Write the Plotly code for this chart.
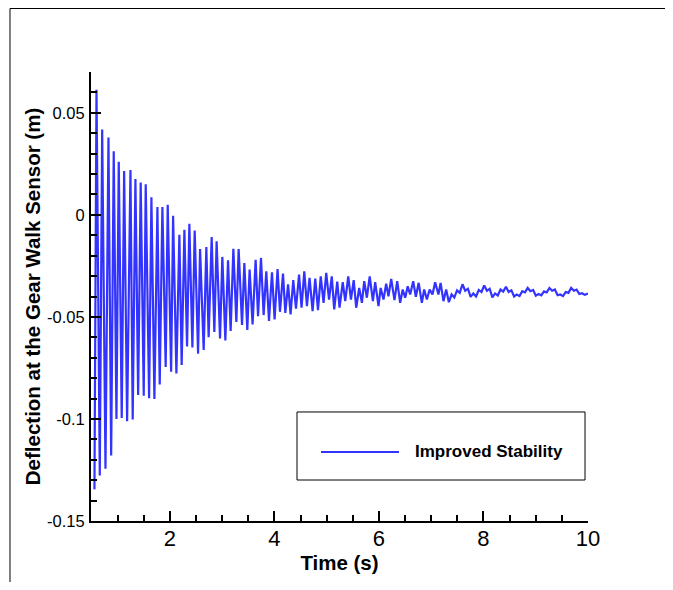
import plotly.graph_objects as go

# ---- data (time in s, deflection in m) ----
t_early = [0.556, 0.595, 0.658, 0.704, 0.767, 0.824, 0.876, 0.925, 0.977, 1.021,
           1.078, 1.124, 1.181, 1.245, 1.288, 1.340, 1.392, 1.441, 1.499, 1.537,
           1.602, 1.646, 1.703, 1.761, 1.805, 1.856, 1.919, 1.958, 2.023, 2.061,
           2.124, 2.181, 2.225, 2.277, 2.328, 2.372, 2.430, 2.474, 2.539, 2.577,
           2.646, 2.697, 2.741, 2.799, 2.850, 2.894, 2.959, 3.003, 3.061, 3.112,
           3.162, 3.214, 3.271, 3.315, 3.380, 3.424, 3.481, 3.525, 3.582, 3.640,
           3.686, 3.743, 3.793, 3.844, 3.896, 3.953, 4.003, 4.060, 4.106, 4.164,
           4.208, 4.261, 4.309, 4.360, 4.412, 4.471, 4.519, 4.571, 4.622]
d_early = [-0.1345, 0.0613, -0.1277, 0.0418, -0.1244, 0.0379, -0.1179, 0.0312, -0.1000, 0.0260,
           -0.0995, 0.0215, -0.1011, 0.0220, -0.1003, 0.0176, -0.0883, 0.0158, -0.0886, 0.0150,
           -0.0899, 0.0086, -0.0902, 0.0039, -0.0831, 0.0039, -0.0745, 0.0049, -0.0769, -0.0005,
           -0.0777, -0.0098, -0.0735, -0.0073, -0.0645, -0.0044, -0.0650, -0.0077, -0.0680, -0.0167,
           -0.0662, -0.0158, -0.0599, -0.0109, -0.0574, -0.0130, -0.0606, -0.0206, -0.0615, -0.0223,
           -0.0569, -0.0166, -0.0525, -0.0167, -0.0540, -0.0236, -0.0564, -0.0268, -0.0537, -0.0220,
           -0.0496, -0.0211, -0.0491, -0.0277, -0.0520, -0.0281, -0.0512, -0.0265, -0.0475, -0.0288,
           -0.0480, -0.0341, -0.0488, -0.0320, -0.0460, -0.0293, -0.0455, -0.0277, -0.0447]

t_mid = [4.672, 4.730, 4.781, 4.833, 4.886, 4.940, 4.991, 5.045, 5.097, 5.144,
         5.202, 5.246, 5.307, 5.355, 5.412, 5.464, 5.517, 5.565, 5.622, 5.674,
         5.718, 5.769, 5.823, 5.884, 5.928, 5.991, 6.033, 6.087, 6.138, 6.182,
         6.234, 6.297, 6.349, 6.406, 6.454, 6.502, 6.550, 6.597, 6.655, 6.706,
         6.760, 6.821, 6.865, 6.917, 6.970, 7.024, 7.075, 7.138, 7.180, 7.234, 7.286]
d_mid = [-0.0309, -0.0472, -0.0312, -0.0467, -0.0301, -0.0431, -0.0284, -0.0415, -0.0301, -0.0463,
         -0.0327, -0.0455, -0.0330, -0.0423, -0.0301, -0.0415, -0.0320, -0.0455, -0.0358, -0.0431,
         -0.0325, -0.0406, -0.0301, -0.0423, -0.0330, -0.0447, -0.0358, -0.0415, -0.0337, -0.0399,
         -0.0314, -0.0418, -0.0325, -0.0431, -0.0366, -0.0406, -0.0350, -0.0390, -0.0325, -0.0401,
         -0.0333, -0.0431, -0.0366, -0.0415, -0.0366, -0.0390, -0.0330, -0.0390, -0.0333, -0.0423, -0.0366]

t_late = [7.338, 7.390, 7.442, 7.494, 7.546, 7.598, 7.650, 7.702, 7.754, 7.806,
          7.858, 7.910, 7.962, 8.014, 8.066, 8.118, 8.170, 8.222, 8.274, 8.326,
          8.378, 8.430, 8.482, 8.534, 8.586, 8.638, 8.690, 8.742, 8.794, 8.846,
          8.898, 8.950, 9.002, 9.054, 9.106, 9.158, 9.210, 9.262, 9.314, 9.366,
          9.418, 9.470, 9.522, 9.574, 9.626, 9.678, 9.730, 9.782, 9.834, 9.886,
          9.938, 10.000]
d_late = [-0.0428, -0.0390, -0.0405, -0.0370, -0.0382, -0.0340, -0.0372, -0.0362, -0.0402, -0.0385,
          -0.0400, -0.0368, -0.0378, -0.0346, -0.0372, -0.0362, -0.0404, -0.0385, -0.0395, -0.0366,
          -0.0376, -0.0352, -0.0378, -0.0370, -0.0400, -0.0390, -0.0398, -0.0374, -0.0380, -0.0358,
          -0.0374, -0.0368, -0.0396, -0.0388, -0.0394, -0.0375, -0.0380, -0.0358, -0.0372, -0.0366,
          -0.0394, -0.0390, -0.0398, -0.0378, -0.0382, -0.0358, -0.0372, -0.0366, -0.0388, -0.0384,
          -0.0392, -0.0386]

series_name = "Improved Stability"
x_tickvals = [2, 4, 6, 8, 10]
x_ticktext = ["2", "4", "6", "8", "10"]
y_tickvals = [-0.15, -0.1, -0.05, 0, 0.05]
y_ticktext = ["-0.15", "-0.1", "-0.05", "0", "0.05"]

time_s = t_early + t_mid + t_late
deflection_m = d_early + d_mid + d_late

LINE_COLOR = "#3333ff"
FONT = "Liberation Sans, Arial, Helvetica, sans-serif"

fig = go.Figure()
fig.add_trace(go.Scatter(x=time_s, y=deflection_m, mode="lines", name=series_name,
                         line=dict(color=LINE_COLOR, width=2.2), showlegend=False))

frame = dict(color="black", width=1)
fig.update_layout(
    width=665, height=574,
    margin=dict(l=83, r=85, t=64, b=61),
    paper_bgcolor="white", plot_bgcolor="white",
    font=dict(family=FONT, color="black"),
    xaxis=dict(
        range=[0.49, 10], showgrid=False, zeroline=False,
        showline=True, linecolor="black", linewidth=2,
        ticks="inside", ticklen=10, tickwidth=2, tickcolor="black",
        tickmode="array", tickvals=x_tickvals, ticktext=x_ticktext,
        tickfont=dict(size=22, family=FONT), ticklabelstandoff=-3,
        minor=dict(dtick=0.5, tick0=0, ticks="inside", ticklen=6, tickwidth=1.5, tickcolor="black"),
        title=dict(text="<b>Time (s)</b>", font=dict(size=20.5, family=FONT), standoff=4),
    ),
    yaxis=dict(
        range=[-0.15, 0.07], showgrid=False, zeroline=False,
        showline=True, linecolor="black", linewidth=2,
        ticks="inside", ticklen=10, tickwidth=2, tickcolor="black",
        tickmode="array", tickvals=y_tickvals, ticktext=y_ticktext,
        tickfont=dict(size=16.5, family=FONT), ticklabelstandoff=1,
        minor=dict(dtick=0.01, tick0=0, ticks="inside", ticklen=6, tickwidth=1.5, tickcolor="black"),
        title=dict(text="<b>Deflection at the Gear Walk Sensor (m)</b>", font=dict(size=20.5, family=FONT), standoff=1),
    ),
    shapes=[
        # outer frame (left, top, right)
        dict(type="line", xref="paper", yref="paper", x0=-0.163, x1=-0.163, y0=-0.2, y1=1.1414, line=frame),
        dict(type="line", xref="paper", yref="paper", x0=-0.163, x1=1.164, y0=1.1414, y1=1.1414, line=frame),
        dict(type="line", xref="paper", yref="paper", x0=1.164, x1=1.164, y0=-0.2, y1=1.1414, line=frame),
        # legend box
        dict(type="rect", xref="paper", yref="paper", x0=0.4145, x1=0.994, y0=0.0913, y1=0.2428,
             line=dict(color="black", width=1), fillcolor="white"),
        dict(type="line", xref="paper", yref="paper", x0=0.4628, x1=0.6197, y0=0.1537, y1=0.1537,
             line=dict(color=LINE_COLOR, width=2.2)),
    ],
    annotations=[
        dict(text="<b>" + series_name + "</b>", xref="paper", yref="paper", x=0.6479, y=0.1537,
             xanchor="left", yanchor="middle", showarrow=False, font=dict(size=17, family=FONT)),
    ],
)

fig.write_html("out.html")
